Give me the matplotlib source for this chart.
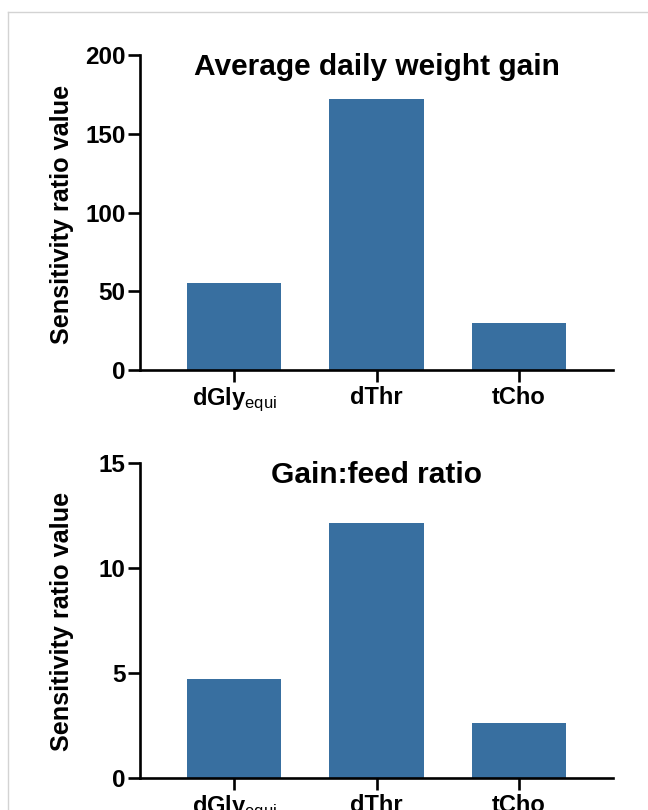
import matplotlib
matplotlib.use("Agg")
import matplotlib.pyplot as plt
from matplotlib.lines import Line2D

plt.rcParams['font.family'] = ['Liberation Sans', 'DejaVu Sans']
plt.rcParams['mathtext.fontset'] = 'custom'
plt.rcParams['mathtext.rm'] = 'Liberation Sans'
plt.rcParams['mathtext.bf'] = 'Liberation Sans:bold'
plt.rcParams['mathtext.it'] = 'Liberation Sans:italic'

categories = [r'$\mathbf{dGly}_{\mathrm{equi}}$', 'dThr', 'tCho']
adg_values = [55, 172, 30]
gf_values = [4.7, 12.15, 2.6]
titles = ['Average daily weight gain', 'Gain:feed ratio']
ylabel = 'Sensitivity ratio value'
adg_ticks = [0, 50, 100, 150, 200]
gf_ticks = [0, 5, 10, 15]

W, H = 648, 810
fig = plt.figure(figsize=(W / 100, H / 100), dpi=100)

bar_color = '#386fa0'
lw = 1.9

def make_ax(rect, values, ticks, title):
    ax = fig.add_axes(rect)
    x = list(range(len(values)))
    ax.bar(x, values, width=0.66, color=bar_color, edgecolor='none')
    ax.set_xlim(-0.66, len(values) - 1 + 0.66)
    ax.set_ylim(ticks[0], ticks[-1])
    ax.set_yticks(ticks)
    ax.set_xticks(x)
    ax.set_xticklabels(categories)
    for s in ['top', 'right']:
        ax.spines[s].set_visible(False)
    for s in ['left', 'bottom']:
        ax.spines[s].set_linewidth(lw)
        ax.spines[s].set_color('black')
    ax.spines['left'].set_capstyle('projecting')
    ax.tick_params(axis='both', width=lw, length=8.5, color='black')
    ax.tick_params(axis='y', pad=2, labelsize=17.5)
    ax.tick_params(axis='x', pad=3, labelsize=17)
    for lab in ax.get_yticklabels() + ax.get_xticklabels():
        lab.set_fontweight('bold')
    ax.text(0.5, 0.962, title, transform=ax.transAxes, ha='center', va='center',
            fontsize=21.5, fontweight='bold')
    return ax

left = 140 / W
width = (613 - 140) / W
height = (370 - 55) / H
ax1 = make_ax([left, 1 - 370 / H, width, height], adg_values, adg_ticks, titles[0])
ax2 = make_ax([left, 1 - 778 / H, width, height], gf_values, gf_ticks, titles[1])

fig.text(62 / W, 1 - 214 / H, ylabel, rotation=90, ha='center', va='center',
         fontsize=18.2, fontweight='bold')
fig.text(62 / W, 1 - 621 / H, ylabel, rotation=90, ha='center', va='center',
         fontsize=18.2, fontweight='bold')

# light frame border
fig.add_artist(Line2D([8 / W, 1], [1 - 12 / H, 1 - 12 / H], color='#d3d3d3', lw=1,
                      transform=fig.transFigure))
fig.add_artist(Line2D([8 / W, 8 / W], [0, 1 - 12 / H], color='#d3d3d3', lw=1,
                      transform=fig.transFigure))

fig.savefig('out.png', dpi=100)
